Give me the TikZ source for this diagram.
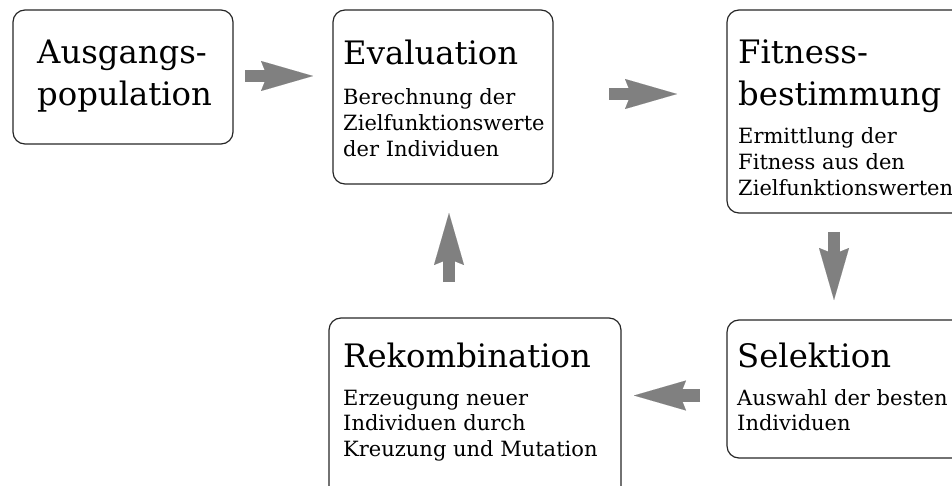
\documentclass[tikz,border=0pt]{standalone}
\usepackage{fontspec}
\setmainfont{DejaVu Serif}
\usetikzlibrary{arrows.meta}
\definecolor{arrowgray}{HTML}{808080}
\newcommand{\lines}[1]{\begin{tabular}[t]{@{}l@{}}#1\end{tabular}}
\tikzset{
  stage/.style={draw=black!85, line width=1.2pt, rounded corners=12pt},
  title/.style={anchor=base west, inner sep=0pt,
    font=\fontsize{32.3}{42}\selectfont},
  detail/.style={anchor=base west, inner sep=0pt,
    font=\fontsize{21}{25.8}\selectfont},
  fat/.style={draw=arrowgray, line width=12.5pt,
    -{Stealth[length=52pt 0 0, width=30pt 0 0, inset=6pt 0, line width=0.01pt, fill=arrowgray, color=arrowgray]}}
}
\begin{document}
\begin{tikzpicture}[x=1pt, y=-1pt]
  \useasboundingbox (0,0) rectangle (952,486);
  \clip (0,0) rectangle (952,486);

  % stage boxes
  \draw[stage] (13,10) rectangle (233,144);
  \draw[stage] (333,10) rectangle (553,184);
  \draw[stage] (727,10) rectangle (975,213);
  \draw[stage] (329,318) rectangle (621,505);
  \draw[stage] (727,320) rectangle (975,458);

  % texts
  \node[title]  (start)   at (37,64)  {\lines{Ausgangs-\\population}};
  \node[title]  (eval)    at (343,65) {Evaluation};
  \node[detail] (evald)   at (343,105) {\lines{Berechnung der\\Zielfunktionswerte\\der Individuen}};
  \node[title]  (fit)     at (738,64) {\lines{Fitness-\\bestimmung}};
  \node[detail] (fitd)    at (738,144) {\lines{Ermittlung der\\Fitness aus den\\Zielfunktionswerten}};
  \node[title]  (sel)     at (737,367) {Selektion};
  \node[detail] (seld)    at (737,405) {\lines{Auswahl der besten\\Individuen}};
  \node[title]  (rek)     at (343,367) {Rekombination};
  \node[detail] (rekd)    at (343,405) {\lines{Erzeugung neuer\\Individuen durch\\Kreuzung und Mutation}};

  % arrow end points
  \coordinate (a1s) at (245,76);  \coordinate (a1e) at (313,76);
  \coordinate (a2s) at (609,94);  \coordinate (a2e) at (677,94);
  \coordinate (a3s) at (834,232); \coordinate (a3e) at (834,300);
  \coordinate (a4s) at (700,395.5); \coordinate (a4e) at (634,395.5);
  \coordinate (a5s) at (449,282); \coordinate (a5e) at (449,213);

  \draw[fat] (a1s) -- (a1e);
  \draw[fat] (a2s) -- (a2e);
  \draw[fat] (a3s) -- (a3e);
  \draw[fat] (a4s) -- (a4e);
  \draw[fat] (a5s) -- (a5e);
\end{tikzpicture}
\end{document}
